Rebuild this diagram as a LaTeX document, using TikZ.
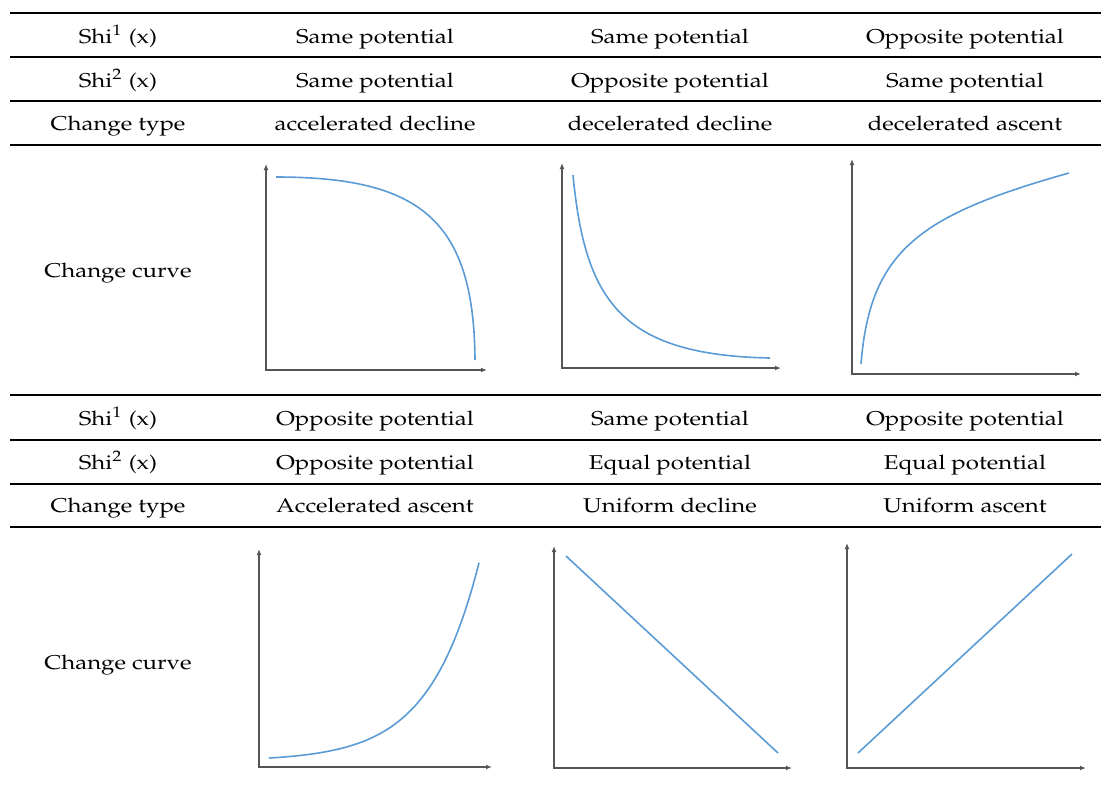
\documentclass[tikz,border=0pt]{standalone}
\usepackage[T1]{fontenc}
\usepackage{mathpazo}
\usetikzlibrary{arrows.meta}

\definecolor{curveblue}{RGB}{91,155,213}
\definecolor{axisgray}{RGB}{85,85,85}
\newcommand{\wide}[1]{\scalebox{1.2}[1]{#1}}

\begin{document}
\begin{tikzpicture}[x=0.5pt,y=-0.5pt,
  cell/.style={inner sep=0pt,anchor=base,font=\fontsize{10}{12}\selectfont},
  rule/.style={line width=0.6pt},
  toprule/.style={line width=1pt},
  axis/.style={draw=axisgray,line width=0.75pt,{Latex[length=3pt,width=2.4pt]}-{Latex[length=3pt,width=2.4pt]}},
  curve/.style={draw=curveblue,line width=0.8pt}]

      \useasboundingbox (0,0) rectangle (1101,789);

      \draw[toprule] (10,13) -- (1101,13);
      \draw[rule] (10,57) -- (1101,57);
      \draw[rule] (10,101) -- (1101,101);
      \draw[rule] (10,145) -- (1101,145);
      \draw[rule] (10,395) -- (1101,395);
      \draw[rule] (10,440) -- (1101,440);
      \draw[rule] (10,484) -- (1101,484);
      \draw[rule] (10,527) -- (1101,527);

      \node[cell] (shia) at (118,43){\wide{Shi$^1$ (x)}};
      \node[cell] (shiab) at (375,43){\wide{Same potential}};
      \node[cell] (shiac) at (670,43){\wide{Same potential}};
      \node[cell] (shiad) at (965,43){\wide{Opposite potential}};

      \node[cell] (shib) at (118,87){\wide{Shi$^2$ (x)}};
      \node[cell] (shibb) at (375,87){\wide{Same potential}};
      \node[cell] (shibc) at (670,87){\wide{Opposite potential}};
      \node[cell] (shibd) at (965,87){\wide{Same potential}};

      \node[cell] (typea) at (118,130){\wide{Change type}};
      \node[cell] (typeab) at (375,130){\wide{accelerated decline}};
      \node[cell] (typeac) at (670,130){\wide{decelerated decline}};
      \node[cell] (typead) at (965,130){\wide{decelerated ascent}};

      \node[cell] (curvea) at (118,277){\wide{Change curve}};

      \node[cell] (shic) at (118,425){\wide{Shi$^1$ (x)}};
      \node[cell] (shicb) at (375,425){\wide{Opposite potential}};
      \node[cell] (shicc) at (670,425){\wide{Same potential}};
      \node[cell] (shicd) at (965,425){\wide{Opposite potential}};

      \node[cell] (shid) at (118,469){\wide{Shi$^2$ (x)}};
      \node[cell] (shidb) at (375,469){\wide{Opposite potential}};
      \node[cell] (shidc) at (670,469){\wide{Equal potential}};
      \node[cell] (shidd) at (965,469){\wide{Equal potential}};

      \node[cell] (typeb) at (118,512){\wide{Change type}};
      \node[cell] (typebb) at (375,512){\wide{Accelerated ascent}};
      \node[cell] (typebc) at (670,512){\wide{Uniform decline}};
      \node[cell] (typebd) at (965,512){\wide{Uniform ascent}};

      \node[cell] (curveb) at (118,669){\wide{Change curve}};

      \coordinate (ya) at (266,164);
      \coordinate (oa) at (266,370);
      \coordinate (xa) at (487,370);
      \coordinate (yb) at (562,163);
      \coordinate (ob) at (562,368);
      \coordinate (xb) at (781,368);
      \coordinate (yc) at (852,159);
      \coordinate (oc) at (852,374);
      \coordinate (xc) at (1081,374);
      \coordinate (yd) at (259,549);
      \coordinate (od) at (259,767);
      \coordinate (xd) at (492,767);
      \coordinate (ye) at (554,546);
      \coordinate (oe) at (554,768);
      \coordinate (xe) at (792,768);
      \coordinate (yf) at (847,543);
      \coordinate (of) at (847,768);
      \coordinate (xf) at (1086,768);

      \draw[axis] (ya) -- (oa) -- (xa);
      \draw[axis] (yb) -- (ob) -- (xb);
      \draw[axis] (yc) -- (oc) -- (xc);
      \draw[axis] (yd) -- (od) -- (xd);
      \draw[axis] (ye) -- (oe) -- (xe);
      \draw[axis] (yf) -- (of) -- (xf);

      \draw[curve] (276,177) .. controls (420,177) and (474,220) .. (475,360);
      \draw[curve] (573,175) .. controls (585,300) and (620,355) .. (770,358);
      \draw[curve] (861,364) .. controls (870,250) and (920,215) .. (1069,173);
      \draw[curve] plot[domain=269:479,samples=60] (\x,{758-2.97*(exp(0.02*(\x-269))-1)});
      \draw[curve] (566,556) -- (778,753);
      \draw[curve] (858,753) -- (1072,554);
    \end{tikzpicture}
\end{document}
